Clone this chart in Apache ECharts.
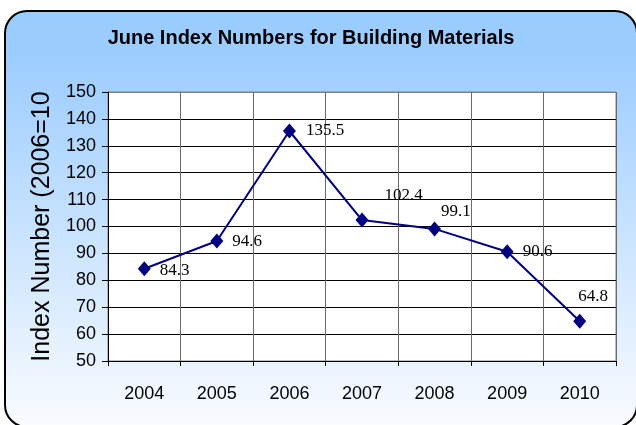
<!DOCTYPE html>
<html>
<head>
<meta charset="utf-8">
<script src="https://cdn.jsdelivr.net/npm/echarts@6/dist/echarts.min.js"></script>
<style>
html,body{margin:0;padding:0;background:#fff;}
#chart{width:636px;height:425px;}
</style>
</head>
<body>
<div id="chart"></div>
<script>
var titleText = 'June Index Numbers for Building Materials';
var yAxisName = 'Index Number (2006=100)';
var years = ['2004', '2005', '2006', '2007', '2008', '2009', '2010'];
var indexValues = [84.3, 94.6, 135.5, 102.4, 99.1, 90.6, 64.8];
var yMin = 50, yMax = 150, yStep = 10;

var sans = '"Liberation Sans", Arial, sans-serif';

var chart = echarts.init(document.getElementById('chart'), null, {renderer: 'canvas'});

// label placements (style only), by point index
var labelShift = [[0, 2], [0, 1], [1, 0], [7, -25], [-9, -17], [0, 0], [-17, -25]];

var splitColors = [];
for (var k = yMin; k <= yMax; k += yStep) splitColors.push(k === yMax ? '#808080' : '#000000');

var option = {
  backgroundColor: '#ffffff',
  animation: false,
  graphic: [{
    type: 'rect',
    z: -10,
    shape: {x: 5, y: 11, width: 632, height: 416, r: 22},
    style: {
      fill: new echarts.graphic.LinearGradient(0, 0, 0, 1, [
        {offset: 0, color: '#99CCFF'},
        {offset: 0.12, color: '#9DCDFF'},
        {offset: 1, color: '#FAFCFF'}
      ]),
      stroke: '#000000',
      lineWidth: 2
    }
  }],
  title: {
    text: titleText,
    left: 311,
    top: 28,
    textAlign: 'center',
    padding: 0,
    textStyle: {
      fontFamily: sans,
      fontWeight: 'bold',
      fontSize: 20,
      color: '#000000'
    }
  },
  grid: {
    left: 108, right: 20, top: 92, bottom: 64,
    show: true,
    backgroundColor: '#ffffff',
    borderColor: '#808080',
    borderWidth: 1
  },
  xAxis: {
    type: 'category',
    data: years,
    boundaryGap: true,
    axisLine: {show: true, lineStyle: {color: '#000000', width: 1}},
    axisTick: {show: true, length: 5, interval: 0, lineStyle: {color: '#000000'}},
    axisLabel: {margin: 24, fontFamily: sans, fontSize: 18, color: '#000000'},
    splitLine: {show: true, interval: 0, lineStyle: {color: '#6a6a6a', width: 1}}
  },
  yAxis: {
    type: 'value',
    min: yMin, max: yMax, interval: yStep,
    name: yAxisName,
    nameLocation: 'middle',
    nameGap: 42,
    nameRotate: 90,
    nameTruncate: {maxWidth: 278, ellipsis: ''},
    nameTextStyle: {
      fontFamily: sans,
      fontSize: 25,
      color: '#000000'
    },
    axisLine: {show: true, lineStyle: {color: '#000000', width: 1}},
    axisTick: {show: true, length: 6, lineStyle: {color: '#000000'}},
    axisLabel: {margin: 12, fontFamily: sans, fontSize: 18, color: '#000000'},
    splitLine: {show: true, lineStyle: {color: splitColors, width: 1}}
  },
  series: [{
    type: 'line',
    data: indexValues.map(function (v, i) {
      return {
        value: v,
        label: {offset: labelShift[i]}
      };
    }),
    symbol: 'diamond',
    symbolSize: [13, 15],
    lineStyle: {color: '#000080', width: 2},
    itemStyle: {color: '#000080'},
    label: {
      show: true,
      position: 'right',
      distance: 9,
      fontFamily: '"Liberation Serif", "Times New Roman", serif',
      fontSize: 17,
      color: '#000000',
      formatter: function (p) { return p.value.toFixed(1); }
    }
  }]
};
chart.setOption(option);
</script>
</body>
</html>
